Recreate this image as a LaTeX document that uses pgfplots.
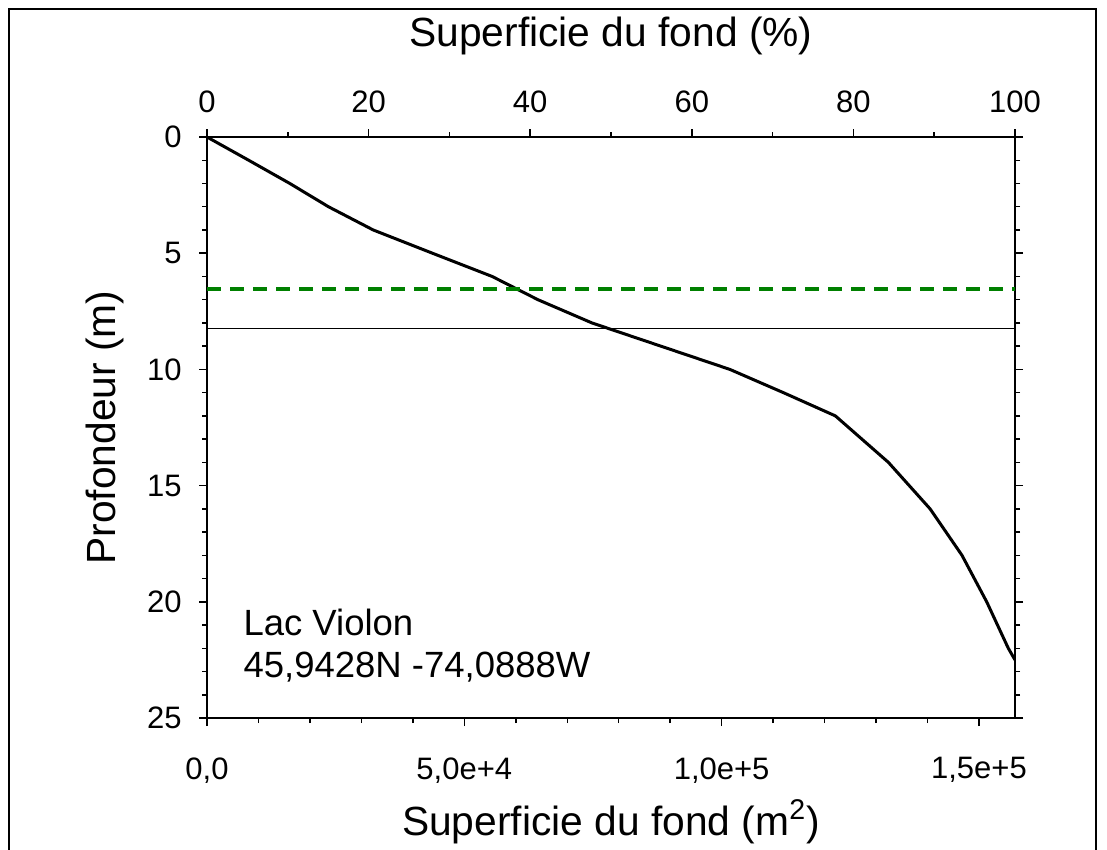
\documentclass[border=0pt]{standalone}
\usepackage{fontspec}
\setmainfont{Liberation Sans}
\usepackage{pgfplots}
\pgfplotsset{compat=1.18}

\definecolor{dashgreen}{RGB}{0,128,0}

% 1 px of the reference = 0.4pt
\pgfplotsset{
  profil/.style={
    at={(82.8pt,-287.2pt)}, anchor=south west,
    scale only axis, width=323.2pt, height=232.4pt,
    ymin=0, ymax=25, y dir=reverse,
    tick align=outside,
    major tick length=3.2pt, minor tick length=2pt,
    axis line style={line width=0.8pt},
    tick style={black, line width=0.6pt},
    ticklabel style={font=\fontsize{12.4}{14}\selectfont, inner sep=0pt},
    label style={font=\fontsize{16.3}{19}\selectfont},
    /pgf/number format/assume math mode=true,
  }
}

\begin{document}
\begin{tikzpicture}
\useasboundingbox (0,0) rectangle (442.8pt,-340pt);
\draw[line width=1pt] (3.6pt,-350pt) -- (3.6pt,-3.6pt) -- (438.4pt,-3.6pt) -- (438.4pt,-350pt);

% top axis: percentage
\begin{axis}[profil,
  xmin=0, xmax=100,
  xtick={0,20,...,100}, minor x tick num=1,
  xtick pos=right, xticklabel pos=right,
  xticklabel shift=6.2pt,
  ytick=\empty,
  xlabel={Superficie du fond (\%)},
  xlabel style={at={([yshift=36.4pt]axis description cs:0.5,1)}, anchor=base},
]
\end{axis}

% main axis: area in m2
\begin{axis}[profil,
  xmin=0, xmax=157000,
  scaled x ticks=false,
  xtick={0,50000,100000,150000},
  xticklabels={{0,0},{5,0e+4},{1,0e+5},{1,5e+5}},
  minor x tick num=4,
  xtick pos=left, xticklabel shift=12.4pt,
  ytick={0,5,...,25}, minor y tick num=4,
  ytick pos=both, yticklabel pos=left, yticklabel shift=6.8pt,
  xlabel={Superficie du fond (m\textsuperscript{2})},
  xlabel style={at={([yshift=-46.8pt]axis description cs:0.5,0)}, anchor=base},
  ylabel={Profondeur (m)},
  ylabel style={at={([xshift=-36.4pt]axis description cs:0,0.5)}, anchor=base},
]
\addplot[black, line width=1.2pt] coordinates {
  (0,0) (8100,1) (16100,2) (23600,3) (32300,4) (43800,5) (55400,6)
  (64300,7) (74800,8) (88200,9) (101600,10) (112000,11) (122100,12)
  (132400,14) (140500,16) (146700,18) (151500,20) (155700,22) (157000,22.5)
};
\addplot[dashgreen, line width=1.4pt, dash pattern=on 5.6pt off 3.6pt] coordinates {(0,6.54) (157000,6.54)};
\addplot[black, line width=0.6pt] coordinates {(0,8.23) (157000,8.23)};
\node[anchor=base west, inner sep=0pt, font=\fontsize{14.6}{17}\selectfont] at (axis cs:7000,21.47) {Lac Violon};
\node[anchor=base west, inner sep=0pt, font=\fontsize{14.6}{17}\selectfont] at (axis cs:7000,23.24) {45,9428N -74,0888W};
\end{axis}
\end{tikzpicture}
\end{document}
